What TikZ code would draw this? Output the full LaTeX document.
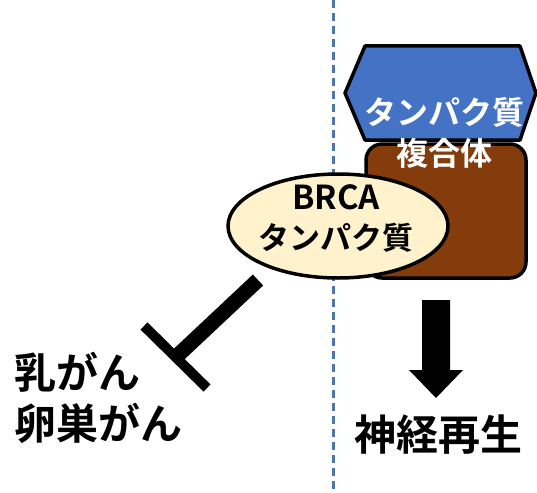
\documentclass[tikz,border=0pt]{standalone}
\usepackage{fontspec}
\newfontfamily\jp{Noto Sans CJK JP Bold}
\newfontfamily\jpb{Noto Sans CJK JP Bold}
\usetikzlibrary{shapes.geometric}
\definecolor{hexblue}{HTML}{4472C4}
\definecolor{brownbox}{HTML}{843C0C}
\definecolor{cream}{HTML}{FFF2CC}
\definecolor{dashblue}{HTML}{4F74AE}
\tikzset{
  lbl/.style={font=\jp\fontsize{42}{52}\selectfont, align=left, inner sep=0pt},
  wlbl/.style={font=\jp\fontsize{32}{40}\selectfont, text=white, align=center, inner sep=0pt},
}
\begin{document}
\begin{tikzpicture}[x=1pt,y=-1pt]
\useasboundingbox (0,0) rectangle (537,492);
% dashed divider
\coordinate (dtop) at (333,0);
\coordinate (dbot) at (333,492);
\draw[dashblue, line width=3pt, dash pattern=on 8pt off 5pt] (dtop) -- (dbot);
% hexagon
\draw[fill=hexblue, line width=3.5pt, line join=round] (345,93) -- (365,46) -- (520,46) -- (536,93) -- (520,140) -- (365,140) -- cycle;
% brown box
\draw[fill=brownbox, line width=3.5pt, rounded corners=16pt] (366,144) rectangle (526,278);
% ellipse
\node[ellipse, draw, line width=3.5pt, fill=cream, minimum width=220pt, minimum height=104pt, inner sep=0pt] (brca) at (338,226) {};
\node[font=\jpb\fontsize{33}{36}\selectfont, inner sep=0pt] (brcat) at (336,197) {BRCA};
\node[font=\jp\fontsize{31}{34}\selectfont, inner sep=0pt] (brcaj) at (336,238) {タンパク質};
% complex text
\node[wlbl] (cx1) at (444,112) {タンパク質};
\node[wlbl] (cx2) at (444,153) {複合体};
% inhibition
\coordinate (istart) at (258,280);
\coordinate (iend) at (176,357);
\coordinate (ba) at (144,326);
\coordinate (bb) at (207,388);
\draw[line width=15pt] (istart) -- (iend);
\draw[line width=10pt] (ba) -- (bb);
% down arrow
\fill (422,300) -- (450,300) -- (450,370) -- (463,370) -- (436,398) -- (409,370) -- (422,370) -- cycle;
% labels
\node[lbl, anchor=west] (cancer1) at (14,372) {乳がん};
\node[lbl, anchor=west] (cancer2) at (14,423) {卵巣がん};
\node[lbl] (neuro) at (438,435) {神経再生};
\end{tikzpicture}
\end{document}
